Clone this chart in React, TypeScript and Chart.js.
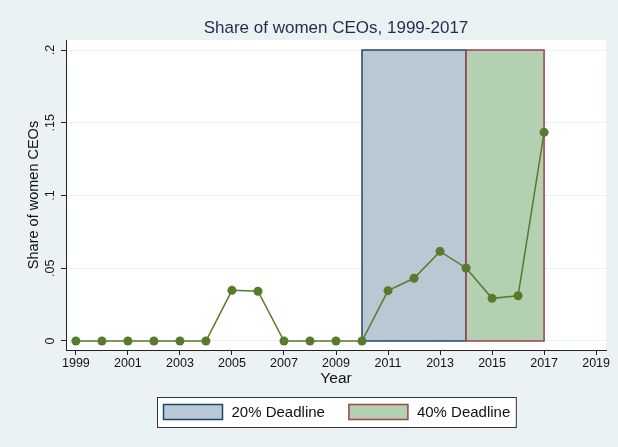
import { useEffect, useRef } from "react";
import { Chart, registerables } from "chart.js";

Chart.register(...registerables);

const FONT = "'Liberation Sans', Arial, sans-serif";

const chartTitle = "Share of women CEOs, 1999-2017";
const xAxisTitle = "Year";
const yAxisTitle = "Share of women CEOs";

const years = [1999, 2000, 2001, 2002, 2003, 2004, 2005, 2006, 2007, 2008, 2009, 2010, 2011, 2012, 2013, 2014, 2015, 2016, 2017];
const shareWomenCEOs = [0, 0, 0, 0, 0, 0, 0.0348, 0.0342, 0, 0, 0, 0, 0.0346, 0.0431, 0.0616, 0.0502, 0.0293, 0.0311, 0.1434];

const xTickValues = [1999, 2001, 2003, 2005, 2007, 2009, 2011, 2013, 2015, 2017, 2019];
const yTickValues = [0, 0.05, 0.1, 0.15, 0.2];
const yTickLabels = ["0", ".05", ".1", ".15", ".2"];

const deadlineLabels = ["20% Deadline", "40% Deadline"];
const deadlineStart = [2010, 2014];
const deadlineEnd = [2014, 2017];
const deadlineBottom = [0, 0];
const deadlineTop = [0.2, 0.2];
const deadlineFill = ["#BAC8D3", "#B3D0B3"];
const deadlineBorder = ["#1A476F", "#A0404A"];

const LINE_COLOR = "#587A2C";
const BG = "#EAF2F3";

const bgPlugin = {
  id: "bgPlugin",
  beforeDraw(chart: any) {
    const { ctx, chartArea: ca } = chart;
    ctx.save();
    ctx.fillStyle = BG;
    ctx.fillRect(0, 0, chart.width, chart.height);
    ctx.fillStyle = "#FFFFFF";
    ctx.fillRect(ca.left, ca.top, ca.right - ca.left, ca.bottom - ca.top);
    ctx.restore();
  },
};

const boxFillPlugin = {
  id: "boxFill",
  beforeDatasetDraw(chart: any, args: any) {
    const ds: any = chart.data.datasets[args.index];
    if (!ds.boxFill) return;
    const pts = args.meta.data;
    const ctx = chart.ctx;
    ctx.save();
    ctx.beginPath();
    pts.forEach((p: any, i: number) => (i ? ctx.lineTo(p.x, p.y) : ctx.moveTo(p.x, p.y)));
    ctx.closePath();
    ctx.fillStyle = ds.boxFill;
    ctx.fill();
    ctx.restore();
  },
};

const decorPlugin = {
  id: "decor",
  afterDraw(chart: any) {
    const { ctx, chartArea: ca } = chart;
    const cx = (ca.left + ca.right) / 2;
    ctx.save();
    // title
    ctx.font = `17px ${FONT}`;
    ctx.fillStyle = "#1E2D4F";
    ctx.textAlign = "center";
    ctx.textBaseline = "alphabetic";
    ctx.fillText(chartTitle, cx, 33);

    // y tick labels (rotated)
    const ys = chart.scales.y;
    ctx.font = `12.5px ${FONT}`;
    ctx.fillStyle = "#111";
    yTickValues.forEach((v, i) => {
      const py = ys.getPixelForValue(v);
      ctx.save();
      ctx.translate(ca.left - 12, py);
      ctx.rotate(-Math.PI / 2);
      ctx.textAlign = "center";
      ctx.textBaseline = "alphabetic";
      ctx.fillText(yTickLabels[i], 0, 0);
      ctx.restore();
    });

    // legend
    ctx.font = `15px ${FONT}`;
    const tw = deadlineLabels.map((l) => ctx.measureText(l).width);
    const swW = 59, swH = 15, gap = 9, itemGap = 24, padX = 6;
    const totalW = padX * 2 + tw.reduce((a, w) => a + swW + gap + w, 0) + itemGap * (deadlineLabels.length - 1);
    const left = Math.round(cx - totalW / 2) + 0.5;
    const top = ca.bottom + 47.5;
    const h = 30;
    ctx.fillStyle = "#FFFFFF";
    ctx.fillRect(left, top, totalW, h);
    ctx.strokeStyle = "#333";
    ctx.lineWidth = 1;
    ctx.strokeRect(left, top, totalW, h);
    let x = left + padX;
    deadlineLabels.forEach((l, i) => {
      ctx.fillStyle = deadlineFill[i];
      ctx.fillRect(x, top + 7, swW, swH);
      ctx.strokeStyle = deadlineBorder[i];
      ctx.lineWidth = 1.5;
      ctx.strokeRect(x, top + 7, swW, swH);
      ctx.fillStyle = "#111";
      ctx.textAlign = "left";
      ctx.textBaseline = "middle";
      ctx.fillText(l, x + swW + gap, top + h / 2 + 0.5);
      x += swW + gap + tw[i] + itemGap;
    });
    ctx.restore();
  },
};

export default function App() {
  const ref = useRef<HTMLCanvasElement | null>(null);

  useEffect(() => {
    if (!ref.current) return;
    const lineData = years.map((y, i) => ({ x: y, y: shareWomenCEOs[i] }));
    const boxData = (i: number) => [
      { x: deadlineStart[i], y: deadlineBottom[i] },
      { x: deadlineStart[i], y: deadlineTop[i] },
      { x: deadlineEnd[i], y: deadlineTop[i] },
      { x: deadlineEnd[i], y: deadlineBottom[i] },
      { x: deadlineStart[i], y: deadlineBottom[i] },
    ];

    const chart = new Chart(ref.current, {
      type: "scatter",
      data: {
        datasets: [
          {
            label: "Share of women CEOs",
            data: lineData,
            showLine: true,
            borderColor: LINE_COLOR,
            backgroundColor: LINE_COLOR,
            borderWidth: 1.5,
            pointRadius: 4.5,
            pointBorderWidth: 0,
            pointBackgroundColor: LINE_COLOR,
            order: 0,
          },
          {
            label: deadlineLabels[0],
            data: boxData(0),
            showLine: true,
            borderColor: deadlineBorder[0],
            borderWidth: 1.5,
            pointRadius: 0,
            boxFill: deadlineFill[0],
            order: 2,
          } as any,
          {
            label: deadlineLabels[1],
            data: boxData(1),
            showLine: true,
            borderColor: deadlineBorder[1],
            borderWidth: 1.5,
            pointRadius: 0,
            boxFill: deadlineFill[1],
            order: 1,
          } as any,
        ],
      },
      options: {
        responsive: false,
        animation: false,
        devicePixelRatio: 1,
        layout: { padding: { left: 20, right: 12, top: 40, bottom: 57 } },
        plugins: {
          legend: { display: false },
          title: { display: false },
          tooltip: { enabled: false },
        },
        font: { family: FONT },
        scales: {
          x: {
            type: "linear",
            min: 1998.62,
            max: 2019.38,
            afterBuildTicks: (s: any) => {
              s.ticks = xTickValues.map((v) => ({ value: v }));
            },
            afterFit: (s: any) => {
              s.height = 40;
            },
            border: { display: true, color: "#222", width: 1 },
            grid: { display: true, drawOnChartArea: false, drawTicks: true, tickLength: 5, tickColor: "#222" },
            ticks: {
              autoSkip: false,
              maxRotation: 0,
              minRotation: 0,
              padding: 1,
              color: "#111",
              font: { family: FONT, size: 12.5 },
              callback: (v: any) => String(v),
            },
            title: {
              display: true,
              text: xAxisTitle,
              color: "#111",
              font: { family: FONT, size: 15.5 },
              padding: { top: 0, bottom: 2 },
            },
          },
          y: {
            type: "linear",
            min: -0.0062,
            max: 0.2069,
            afterBuildTicks: (s: any) => {
              s.ticks = yTickValues.map((v) => ({ value: v }));
            },
            afterFit: (s: any) => {
              s.width = 46;
            },
            border: { display: true, color: "#222", width: 1 },
            grid: { display: true, drawOnChartArea: true, color: BG, lineWidth: 1, drawTicks: true, tickLength: 5, tickColor: "#222" },
            ticks: { display: false },
            title: {
              display: true,
              text: yAxisTitle,
              color: "#111",
              font: { family: FONT, size: 14.5 },
              padding: { top: 5, bottom: 0 },
            },
          },
        },
      } as any,
      plugins: [bgPlugin, boxFillPlugin, decorPlugin],
    });
    return () => chart.destroy();
  }, []);

  return (
    <div style={{ position: "absolute", left: 0, top: 0, width: 618, height: 447 }}>
      <canvas ref={ref} width={618} height={447} style={{ width: 618, height: 447, display: "block" }} />
    </div>
  );
}
